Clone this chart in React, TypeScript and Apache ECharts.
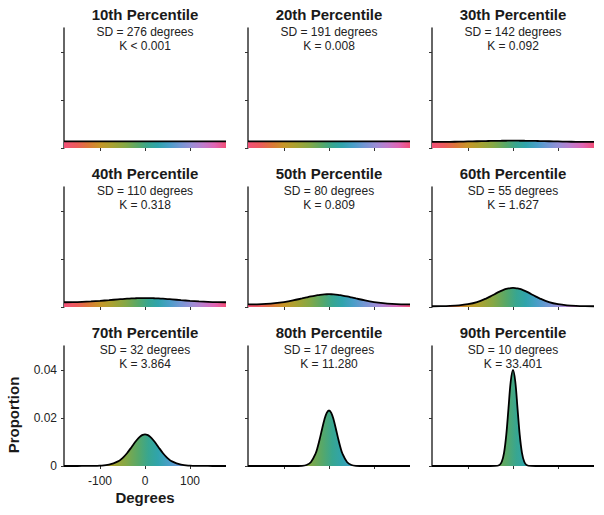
import React, { useEffect, useRef } from "react";
import * as echarts from "echarts";

const DEGREES = [-180, -160, -140, -120, -100, -80, -60, -50, -40, -30, -25, -20, -15, -10, -5, 0, 5, 10, 15, 20, 25, 30, 40, 50, 60, 80, 100, 120, 140, 160, 180];

const P10 = [0.00278, 0.00278, 0.00278, 0.00278, 0.00278, 0.00278, 0.00278, 0.00278, 0.00278, 0.00278, 0.00278, 0.00278, 0.00278, 0.00278, 0.00278, 0.00278, 0.00278, 0.00278, 0.00278, 0.00278, 0.00278, 0.00278, 0.00278, 0.00278, 0.00278, 0.00278, 0.00278, 0.00278, 0.00278, 0.00278, 0.00278];
const P20 = [0.002756, 0.002757, 0.002761, 0.002767, 0.002774, 0.002782, 0.002789, 0.002792, 0.002795, 0.002797, 0.002798, 0.002799, 0.002799, 0.0028, 0.0028, 0.0028, 0.0028, 0.0028, 0.002799, 0.002799, 0.002798, 0.002797, 0.002795, 0.002792, 0.002789, 0.002782, 0.002774, 0.002767, 0.002761, 0.002757, 0.002756];
const P30 = [0.002528, 0.002542, 0.002583, 0.002647, 0.002728, 0.002817, 0.002902, 0.002941, 0.002974, 0.003002, 0.003013, 0.003022, 0.003029, 0.003035, 0.003038, 0.003039, 0.003038, 0.003035, 0.003029, 0.003022, 0.003013, 0.003002, 0.002974, 0.002941, 0.002902, 0.002817, 0.002728, 0.002647, 0.002583, 0.002542, 0.002528];
const P40 = [0.001971, 0.002009, 0.002123, 0.002311, 0.002563, 0.002863, 0.003176, 0.003323, 0.003456, 0.003568, 0.003614, 0.003652, 0.003683, 0.003705, 0.003718, 0.003723, 0.003718, 0.003705, 0.003683, 0.003652, 0.003614, 0.003568, 0.003456, 0.003323, 0.003176, 0.002863, 0.002563, 0.002311, 0.002123, 0.002009, 0.001971];
const P50 = [0.001057, 0.00111, 0.001277, 0.001584, 0.002062, 0.002732, 0.003557, 0.003993, 0.004411, 0.004783, 0.004941, 0.005076, 0.005185, 0.005265, 0.005314, 0.00533, 0.005314, 0.005265, 0.005185, 0.005076, 0.004941, 0.004783, 0.004411, 0.003993, 0.003557, 0.002732, 0.002062, 0.001584, 0.001277, 0.00111, 0.001057];
const P60 = [0.000307, 0.000338, 0.000449, 0.000692, 0.001177, 0.002071, 0.003521, 0.004442, 0.005428, 0.006388, 0.00682, 0.007201, 0.007515, 0.007749, 0.007894, 0.007943, 0.007894, 0.007749, 0.007515, 0.007201, 0.00682, 0.006388, 0.005428, 0.004442, 0.003521, 0.002071, 0.001177, 0.000692, 0.000449, 0.000338, 0.000307];
const P70 = [0.000006, 0.000007, 0.000014, 0.00004, 0.000141, 0.000541, 0.001908, 0.003312, 0.005332, 0.007847, 0.009169, 0.010431, 0.011544, 0.012417, 0.012976, 0.013168, 0.012976, 0.012417, 0.011544, 0.010431, 0.009169, 0.007847, 0.005332, 0.003312, 0.001908, 0.000541, 0.000141, 0.00004, 0.000014, 0.000007, 0.000006];
const P80 = [0, 0, 0, 0, 0, 0.000002, 0.000082, 0.000411, 0.001651, 0.0051, 0.008034, 0.011708, 0.015739, 0.019475, 0.022144, 0.023115, 0.022144, 0.019475, 0.015739, 0.011708, 0.008034, 0.0051, 0.001651, 0.000411, 0.000082, 0.000002, 0, 0, 0, 0, 0];
const P90 = [0, 0, 0, 0, 0, 0, 0, 0, 0.000016, 0.000457, 0.001754, 0.005348, 0.012845, 0.024136, 0.035305, 0.040089, 0.035305, 0.024136, 0.012845, 0.005348, 0.001754, 0.000457, 0.000016, 0, 0, 0, 0, 0, 0, 0, 0];

const PANEL_TITLES = ["10th Percentile", "20th Percentile", "30th Percentile", "40th Percentile", "50th Percentile", "60th Percentile", "70th Percentile", "80th Percentile", "90th Percentile"];
const SD_LABELS = ["SD = 276 degrees", "SD = 191 degrees", "SD = 142 degrees", "SD = 110 degrees", "SD = 80 degrees", "SD = 55 degrees", "SD = 32 degrees", "SD = 17 degrees", "SD = 10 degrees"];
const K_LABELS = ["K < 0.001", "K = 0.008", "K = 0.092", "K = 0.318", "K = 0.809", "K = 1.627", "K = 3.864", "K = 11.280", "K = 33.401"];
const X_TICKS = [-100, 0, 100];
const Y_TICKS = [0, 0.02, 0.04];
const PANELS = [P10, P20, P30, P40, P50, P60, P70, P80, P90];

const FONT = '"Liberation Sans", Arial, Helvetica, sans-serif';

export default function App() {
  const ref = useRef<HTMLDivElement>(null);
  useEffect(() => {
    document.body.style.margin = "0";
    const chart = echarts.init(ref.current!, null, { renderer: "svg" });
    const colLeft = [64, 248, 432];
    const rowTop = [28, 187, 346];
    const W = 162;
    const H = 120;
    const stops = [
      { offset: 0.0, color: "#f25078" },
      { offset: 0.08, color: "#ec5c5a" },
      { offset: 0.15, color: "#dc7838" },
      { offset: 0.22, color: "#c89628" },
      { offset: 0.3, color: "#a8a232" },
      { offset: 0.38, color: "#84a846" },
      { offset: 0.46, color: "#56a86a" },
      { offset: 0.52, color: "#38a690" },
      { offset: 0.58, color: "#30a4ac" },
      { offset: 0.65, color: "#4a9ec8" },
      { offset: 0.72, color: "#7496d4" },
      { offset: 0.79, color: "#9c8ed6" },
      { offset: 0.86, color: "#c07ccc" },
      { offset: 0.93, color: "#e066b4" },
      { offset: 1.0, color: "#f25078" },
    ];
    const grids: any[] = [];
    const xAxes: any[] = [];
    const yAxes: any[] = [];
    const series: any[] = [];
    const graphics: any[] = [];
    PANELS.forEach((vals, i) => {
      const r = Math.floor(i / 3);
      const c = i % 3;
      const left = colLeft[c];
      const top = rowTop[r];
      const showLabels = i === 6;
      grids.push({ left, top, width: W, height: H, containLabel: false });
      xAxes.push({
        type: "value",
        gridIndex: i,
        min: -180,
        max: 180,
        axisLine: { show: false, onZero: false },
        splitLine: { show: false },
        axisTick: { show: true, customValues: X_TICKS, length: 3, lineStyle: { color: "#333", width: 1 } },
        axisLabel: { show: showLabels, customValues: X_TICKS, fontSize: 12, color: "#222", fontFamily: FONT, margin: 9 },
      });
      yAxes.push({
        type: "value",
        gridIndex: i,
        min: 0,
        max: 0.05,
        axisLine: { show: true, onZero: false, lineStyle: { color: "#333", width: 1.5 } },
        splitLine: { show: false },
        axisTick: { show: true, customValues: Y_TICKS, length: 3, lineStyle: { color: "#333", width: 1 } },
        axisLabel: {
          show: showLabels,
          customValues: Y_TICKS,
          fontSize: 12,
          color: "#222",
          fontFamily: FONT,
          margin: 7,
          formatter: (v: number) => (v === 0 ? "0" : v.toFixed(2)),
        },
      });
      series.push({
        type: "line",
        xAxisIndex: i,
        yAxisIndex: i,
        data: DEGREES.map((d, j) => [d, vals[j]]),
        showSymbol: false,
        symbol: "none",
        smooth: 0.35,
        lineStyle: { color: "#000", width: 1.8 },
        areaStyle: { color: new echarts.graphic.LinearGradient(0, 0, 1, 0, stops), opacity: 1 },
        z: 3,
      });
      const cx = left + W / 2;
      graphics.push({
        type: "text",
        x: cx,
        y: top - 14,
        style: { text: PANEL_TITLES[i], fontSize: 15, fontWeight: "bold", fontFamily: FONT, fill: "#1a1a1a", textAlign: "center", textVerticalAlign: "middle", align: "center", verticalAlign: "middle" },
      });
      graphics.push({
        type: "text",
        x: cx,
        y: top + 4,
        style: { text: SD_LABELS[i], fontSize: 12, fontFamily: FONT, fill: "#222", textAlign: "center", textVerticalAlign: "middle", align: "center", verticalAlign: "middle" },
      });
      graphics.push({
        type: "text",
        x: cx,
        y: top + 18,
        style: { text: K_LABELS[i], fontSize: 12, fontFamily: FONT, fill: "#222", textAlign: "center", textVerticalAlign: "middle", align: "center", verticalAlign: "middle" },
      });
    });
    graphics.push({
      type: "text",
      x: 145,
      y: 497,
      style: { text: "Degrees", fontSize: 15, fontWeight: "bold", fontFamily: FONT, fill: "#1a1a1a", textAlign: "center", textVerticalAlign: "middle", align: "center", verticalAlign: "middle" },
    });
    graphics.push({
      type: "text",
      x: 13,
      y: 415,
      rotation: Math.PI / 2,
      style: { text: "Proportion", fontSize: 15, fontWeight: "bold", fontFamily: FONT, fill: "#1a1a1a", textAlign: "center", textVerticalAlign: "middle", align: "center", verticalAlign: "middle" },
    });
    chart.setOption({
      animation: false,
      backgroundColor: "#ffffff",
      textStyle: { fontFamily: FONT },
      grid: grids,
      xAxis: xAxes,
      yAxis: yAxes,
      series,
      graphic: graphics,
    });
    return () => chart.dispose();
  }, []);
  return <div ref={ref} style={{ width: 604, height: 515 }} />;
}
